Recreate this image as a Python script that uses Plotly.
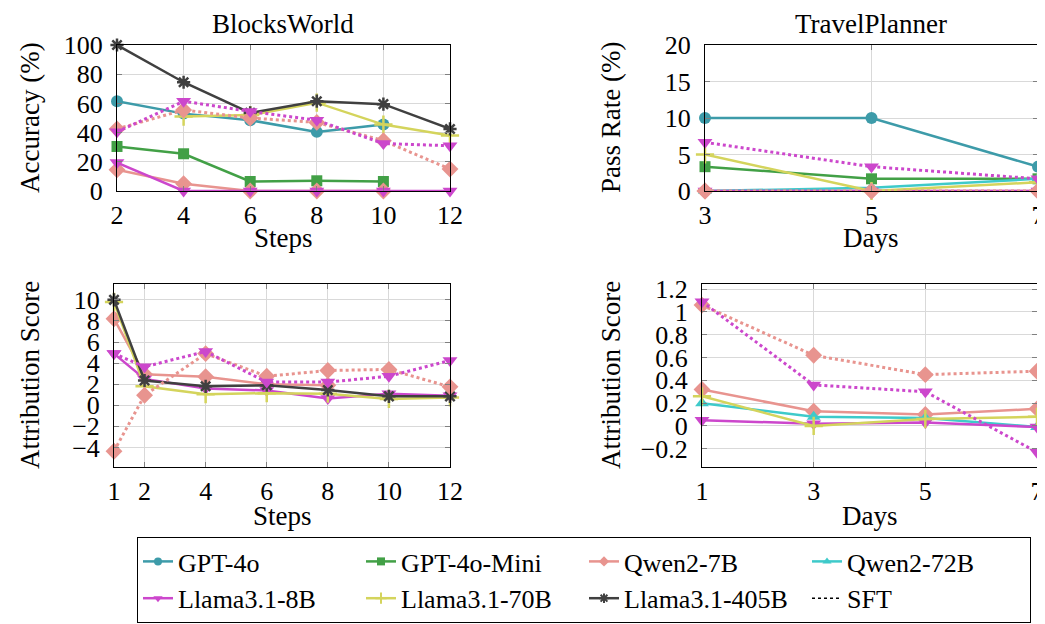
import plotly.graph_objects as go

# ---------------- data ----------------
models = ["GPT-4o", "GPT-4o-Mini", "Qwen2-7B", "Qwen2-72B",
          "Llama3.1-8B", "Llama3.1-70B", "Llama3.1-405B"]

# BlocksWorld accuracy (%)
steps_acc = [2, 4, 6, 8, 10, 12]
acc_gpt4o = [61.5, 53, 48.5, 40.5, 45.5, None]
acc_gpt4o_mini = [30.5, 25.5, 6.5, 7, 6.5, None]
acc_qwen7b = [14.5, 5, 0, 0, 0, None]
acc_llama8b = [19.5, 0, 0, 0, 0, 0]
acc_llama70b = [None, 51, 52, 60.5, 45.5, 38]
acc_llama405b = [100, 74.5, 53.5, 61.5, 59.5, 42.5]
acc_sft_qwen7b = [42.5, 55.5, 50, 47, 34.5, 15]
acc_sft_llama8b = [40.5, 61.5, 54.5, 48.5, 32.5, 31]

# TravelPlanner pass rate (%)
days_pr = [3, 5, 7]
pr_gpt4o = [10, 10, 3.33]
pr_gpt4o_mini = [3.33, 1.67, 1.67]
pr_qwen7b = [0, 0, 0]
pr_qwen72b = [0, 0.45, 1.67]
pr_llama8b = [0, 0, 0]
pr_llama70b = [5, 0, 1.2]
pr_sft_qwen7b = [0, 0, 0]
pr_sft_llama8b = [6.67, 3.33, 1.67]

# BlocksWorld attribution score
steps_att = [1, 2, 4, 6, 8, 10, 12]
ab_qwen7b = [8.2, 2.95, 2.7, 2.0, 1.9, None, None]
ab_llama8b = [4.9, 2.5, 1.6, 1.4, 0.65, 1.1, 0.9]
ab_llama70b = [9.8, 1.8, 1.05, 1.15, 1.1, 0.6, 0.75]
ab_llama405b = [10, 2.35, 1.8, 1.9, 1.45, 0.85, 0.85]
ab_sft_qwen7b = [-4.35, 0.95, 4.9, 2.75, 3.3, 3.4, 1.75]
ab_sft_llama8b = [4.9, 3.65, 5.1, 2.2, 2.2, 2.75, 4.25]

# TravelPlanner attribution score
days_att = [1, 3, 5, 7]
at_qwen7b = [0.32, 0.13, 0.10, 0.15]
at_qwen72b = [0.20, 0.08, 0.07, -0.01]
at_llama8b = [0.05, 0.02, 0.03, -0.01]
at_llama70b = [0.26, 0.0, 0.06, 0.08]
at_sft_qwen7b = [1.06, 0.62, 0.45, 0.48]
at_sft_llama8b = [1.09, 0.36, 0.30, -0.23]

# tick labels
acc_ticks = [0, 20, 40, 60, 80, 100]
pr_ticks = [0, 5, 10, 15, 20]
ab_ticks = [-4, -2, 0, 2, 4, 6, 8, 10]
at_ticks = [-0.2, 0, 0.2, 0.4, 0.6, 0.8, 1.0, 1.2]
at_ticktext = ["\u22120.2", "0", "0.2", "0.4", "0.6", "0.8", "1", "1.2"]

# ---------------- styles ----------------
FONT = "Liberation Serif, Times New Roman, serif"
FS = 26      # tick labels / legend
FT = 27      # titles and axis labels
colors = {
    "GPT-4o": "#3d9ba9",
    "GPT-4o-Mini": "#42a046",
    "Qwen2-7B": "#e8948f",
    "Qwen2-72B": "#3ecaca",
    "Llama3.1-8B": "#cc47cc",
    "Llama3.1-70B": "#d4d45c",
    "Llama3.1-405B": "#404040",
}
symbols = {
    "GPT-4o": ("circle", 12),
    "GPT-4o-Mini": ("square", 11),
    "Qwen2-7B": ("diamond", 13),
    "Qwen2-72B": ("triangle-up", 12),
    "Llama3.1-8B": ("triangle-down", 13),
    "Llama3.1-70B": ("cross-thin-open", 13),
    "Llama3.1-405B": ("asterisk-open", 11),
}

fig = go.Figure()


def add(model, x, y, ax, sft=False):
    c = colors[model]
    sym, sz = symbols[model]
    fig.add_trace(go.Scatter(
        x=x, y=y, mode="lines+markers",
        xaxis="x" + ax, yaxis="y" + ax,
        line=dict(color=c, width=3 if sft else 2.5, dash="dot" if sft else "solid"),
        marker=dict(symbol=sym, size=sz, color=c,
                    line=dict(color=c, width=2.5 if "open" in sym else 0)),
        cliponaxis=False, showlegend=False, name=model,
    ))


# panel 1: BlocksWorld accuracy
add("GPT-4o", steps_acc, acc_gpt4o, "")
add("GPT-4o-Mini", steps_acc, acc_gpt4o_mini, "")
add("Qwen2-7B", steps_acc, acc_qwen7b, "")
add("Llama3.1-8B", steps_acc, acc_llama8b, "")
add("Llama3.1-70B", steps_acc, acc_llama70b, "")
add("Llama3.1-405B", steps_acc, acc_llama405b, "")
add("Qwen2-7B", steps_acc, acc_sft_qwen7b, "", sft=True)
add("Llama3.1-8B", steps_acc, acc_sft_llama8b, "", sft=True)

# panel 2: TravelPlanner pass rate
add("GPT-4o", days_pr, pr_gpt4o, "2")
add("GPT-4o-Mini", days_pr, pr_gpt4o_mini, "2")
add("Qwen2-7B", days_pr, pr_qwen7b, "2")
add("Qwen2-72B", days_pr, pr_qwen72b, "2")
add("Llama3.1-8B", days_pr, pr_llama8b, "2")
add("Llama3.1-70B", days_pr, pr_llama70b, "2")
add("Qwen2-7B", days_pr, pr_sft_qwen7b, "2", sft=True)
add("Llama3.1-8B", days_pr, pr_sft_llama8b, "2", sft=True)

# panel 3: BlocksWorld attribution
add("Qwen2-7B", steps_att, ab_qwen7b, "3")
add("Llama3.1-8B", steps_att, ab_llama8b, "3")
add("Llama3.1-70B", steps_att, ab_llama70b, "3")
add("Llama3.1-405B", steps_att, ab_llama405b, "3")
add("Qwen2-7B", steps_att, ab_sft_qwen7b, "3", sft=True)
add("Llama3.1-8B", steps_att, ab_sft_llama8b, "3", sft=True)

# panel 4: TravelPlanner attribution
add("Qwen2-7B", days_att, at_qwen7b, "4")
add("Qwen2-72B", days_att, at_qwen72b, "4")
add("Llama3.1-8B", days_att, at_llama8b, "4")
add("Llama3.1-70B", days_att, at_llama70b, "4")
add("Qwen2-7B", days_att, at_sft_qwen7b, "4", sft=True)
add("Llama3.1-8B", days_att, at_sft_llama8b, "4", sft=True)

# legend-only entries
for m in models:
    c = colors[m]
    sym, _ = symbols[m]
    fig.add_trace(go.Scatter(
        x=[None], y=[None], mode="lines+markers", name=m,
        line=dict(color=c, width=2.5),
        marker=dict(symbol=sym, size=8, color=c,
                    line=dict(color=c, width=2 if "open" in sym else 0)),
        showlegend=True,
    ))
fig.add_trace(go.Scatter(
    x=[None], y=[None], mode="lines", name="SFT",
    line=dict(color="black", width=1.5, dash="dot"), showlegend=True,
))

# The page body has an 8px default margin; lay out in window pixels.
OFF = 8
WIN_W, WIN_H = 1045, 624
W, H = WIN_W - OFF, WIN_H - OFF


def fx(x):
    return (x - OFF) / W


def fy(y):
    return 1 - (y - OFF) / H


def px_x(a, b):
    return [fx(a), fx(b)]


def px_y(top, bottom):
    return [fy(bottom), fy(top)]


axis_common = dict(
    showline=True, linecolor="black", linewidth=1, mirror="allticks",
    showgrid=True, gridcolor="#d9d9d9", gridwidth=1,
    ticks="inside", ticklen=5, tickcolor="#808080", tickwidth=1,
    zeroline=False, automargin=False,
    tickfont=dict(family=FONT, size=FS, color="black"),
)

fig.update_layout(
    width=W, height=H,
    margin=dict(l=0, r=0, t=0, b=0, autoexpand=False),
    paper_bgcolor="white", plot_bgcolor="white",
    font=dict(family=FONT, size=FS, color="black"),
    xaxis=dict(domain=px_x(117, 450), anchor="y", range=[2, 12],
               tickvals=steps_acc, ticklabelstandoff=1, **axis_common),
    yaxis=dict(domain=px_y(45, 191), anchor="x", range=[0, 100],
               tickvals=acc_ticks, ticklabelstandoff=8, **axis_common),
    xaxis2=dict(domain=px_x(705, 1038), anchor="y2", range=[3, 7],
                tickvals=days_pr, ticklabelstandoff=1, **axis_common),
    yaxis2=dict(domain=px_y(45, 191), anchor="x2", range=[0, 20],
                tickvals=pr_ticks, ticklabelstandoff=8, **axis_common),
    xaxis3=dict(domain=px_x(114, 450), anchor="y3", range=[1, 12],
                tickvals=steps_att, ticklabelstandoff=1, **axis_common),
    yaxis3=dict(domain=px_y(284, 467), anchor="x3", range=[-5.85, 11.5],
                tickvals=ab_ticks, ticklabelstandoff=8, **axis_common),
    xaxis4=dict(domain=px_x(702, 1037), anchor="y4", range=[1, 7],
                tickvals=days_att, ticklabelstandoff=1, **axis_common),
    yaxis4=dict(domain=px_y(284, 467), anchor="x4", range=[-0.36, 1.245],
                tickvals=at_ticks, ticktext=at_ticktext, ticklabelstandoff=8,
                **axis_common),
    legend=dict(
        orientation="h", x=fx(137), y=fy(537), xanchor="left", yanchor="top",
        bordercolor="black", borderwidth=1, bgcolor="white",
        font=dict(family=FONT, size=FS, color="black"),
        entrywidth=178, itemwidth=30, tracegroupgap=0,
    ),
)


def ann(text, x, y, angle=0):
    fig.add_annotation(text=text, x=fx(x), y=fy(y), xref="paper", yref="paper",
                       showarrow=False, textangle=angle,
                       font=dict(family=FONT, size=FT, color="black"),
                       xanchor="center", yanchor="middle")


ann("BlocksWorld", 283, 24)
ann("TravelPlanner", 871, 24)
ann("Accuracy (%)", 30, 118, -90)
ann("Pass Rate (%)", 611, 118, -90)
ann("Attribution Score", 30, 375, -90)
ann("Attribution Score", 611, 375, -90)
ann("Steps", 283, 238)
ann("Days", 871, 238)
ann("Steps", 282, 516)
ann("Days", 870, 516)

fig.write_html("out.html")
